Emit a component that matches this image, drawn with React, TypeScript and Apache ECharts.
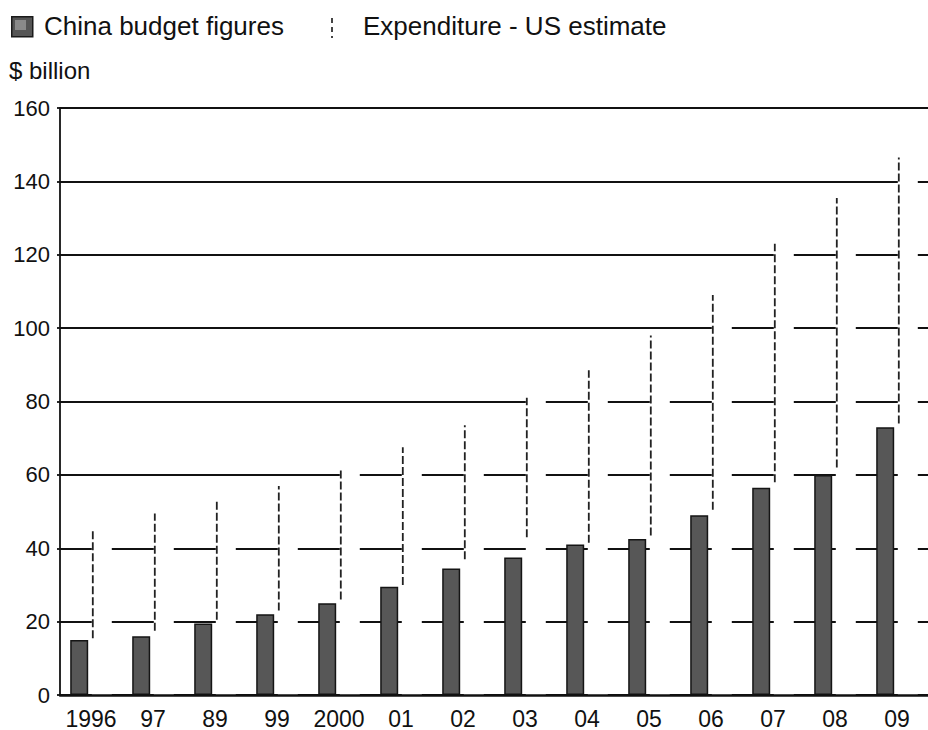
import React, { useEffect, useRef } from "react";
import * as echarts from "echarts";

const categories = ["1996", "97", "89", "99", "2000", "01", "02", "03", "04", "05", "06", "07", "08", "09"];
const chinaBudget = [15, 16, 19.5, 22, 25, 29.5, 34.5, 37.5, 41, 42.5, 49, 56.5, 60, 73];
const usEstimateLow = [15.5, 17.5, 20.5, 23, 26, 30, 37, 43, 41.5, 43.5, 50.5, 58, 62, 74];
const usEstimateHigh = [45, 49.5, 53, 57, 62, 67.5, 73.5, 81, 88.5, 98, 109, 123, 135.5, 146.5];
const yTicks = { min: 0, max: 160, interval: 20 };

const FONT = '"Liberation Sans", Arial, Helvetica, sans-serif';
const INK = "#111111";

export default function App() {
  const ref = useRef<HTMLDivElement>(null);
  useEffect(() => {
    if (!ref.current) return;
    const chart = echarts.init(ref.current, null, { renderer: "svg" });
    const dashOffset = 1.8;
    chart.setOption({
      animation: false,
      backgroundColor: "#ffffff",
      textStyle: { fontFamily: FONT, color: INK },
      grid: { left: 60, top: 108, width: 872, bottom: 33, containLabel: false },
      legend: { show: false },
      graphic: [
        { type: "rect", left: 11, top: 16, shape: { width: 21, height: 20 }, style: { fill: "#555555", stroke: "#1a1a1a", lineWidth: 1.5 } },
        { type: "rect", left: 15, top: 20, shape: { width: 11, height: 10 }, style: { fill: "#8a8a8a" } },
        { type: "text", left: 44, top: 13, style: { text: "China budget figures", font: `26px ${FONT}`, fill: INK } },
        { type: "line", shape: { x1: 332, y1: 18, x2: 332, y2: 38 }, style: { stroke: "#444", lineWidth: 2, lineDash: [5, 4] } },
        { type: "text", left: 363, top: 13, style: { text: "Expenditure - US estimate", font: `26px ${FONT}`, fill: INK } },
        { type: "text", left: 9, top: 58, style: { text: "$ billion", font: `24px ${FONT}`, fill: INK } },
      ],
      xAxis: {
        type: "category",
        data: categories,
        boundaryGap: true,
        z: 5,
        axisLine: { show: true, lineStyle: { color: INK, width: 2.5 } },
        axisTick: { show: false },
        axisLabel: { fontSize: 23, color: INK, margin: 12, fontFamily: FONT, interval: 0 },
        splitLine: { show: false },
      },
      yAxis: {
        type: "value",
        min: yTicks.min,
        max: yTicks.max,
        interval: yTicks.interval,
        axisLine: { show: true, lineStyle: { color: INK, width: 1.8 } },
        axisTick: { show: true, length: 3, lineStyle: { color: INK, width: 1.8 } },
        axisLabel: { fontSize: 22, color: INK, margin: 10, fontFamily: FONT },
        splitLine: { show: true, lineStyle: { color: INK, width: 1.8 } },
      },
      series: [
        {
          name: "China budget figures",
          type: "bar",
          data: chinaBudget,
          barWidth: 18,
          barGap: "20%",
          itemStyle: { color: "#575757", borderColor: "#151515", borderWidth: 1.5 },
        },
        {
          name: "Expenditure - US estimate",
          type: "bar",
          data: usEstimateHigh,
          barWidth: 20,
          barGap: "20%",
          itemStyle: { color: "#ffffff", borderWidth: 0 },
          silent: true,
        },
        {
          name: "Expenditure - US estimate",
          type: "custom",
          data: categories.map((_, i) => [i, usEstimateLow[i], usEstimateHigh[i]]),
          encode: { x: 0, y: [1, 2] },
          z: 4,
          renderItem: (params: any, api: any) => {
            const i = api.value(0);
            const lo = api.coord([i, api.value(1)]);
            const hi = api.coord([i, api.value(2)]);
            const x = lo[0] + dashOffset;
            return {
              type: "line",
              shape: { x1: x, y1: lo[1], x2: x, y2: hi[1] },
              style: { stroke: "#222222", lineWidth: 1.8, lineDash: [8, 3] },
            };
          },
        },
      ],
    });
    return () => chart.dispose();
  }, []);
  return <div ref={ref} style={{ position: "absolute", left: 0, top: 0, width: 928, height: 730 }} />;
}
